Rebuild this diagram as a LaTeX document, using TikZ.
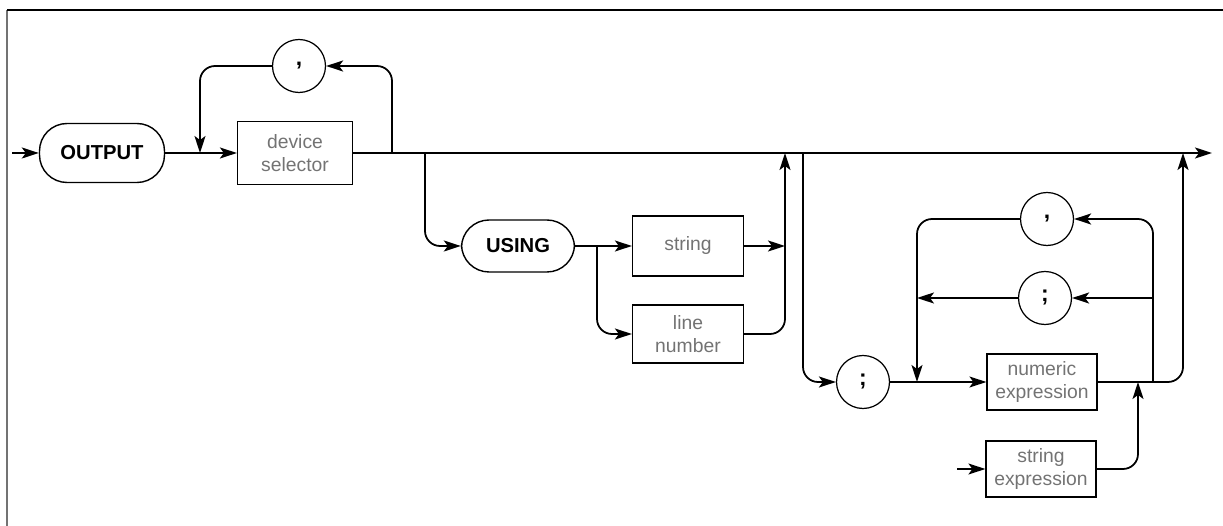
\documentclass[tikz,border=0pt]{standalone}
\usepackage{fontspec}
\setmainfont{Liberation Sans}
\usetikzlibrary{positioning, arrows.meta}

\begin{document}
\begin{tikzpicture}[
  x=0.02cm, y=-0.02cm,
  font=\fontsize{11}{13}\selectfont,
  kw/.style={draw, line width=0.8pt, rounded corners=0.55cm, minimum width=2.5cm,
    minimum height=1.18cm, font=\fontsize{11.5}{13}\selectfont\bfseries},
  box/.style={draw, line width=0.7pt, align=center, minimum width=2.22cm,
    minimum height=1.2cm, inner sep=2pt, text=black!55},
  punct/.style={draw, circle, line width=0.7pt, minimum size=1.06cm, inner sep=0pt,
    font=\fontsize{13}{14}\selectfont\bfseries},
  flow/.style={-{Stealth[length=3.4mm, width=2.2mm, inset=0.8mm]}, line width=1pt, rounded corners=0.3cm},
  rail/.style={line width=1pt, rounded corners=0.3cm}
]
\useasboundingbox (0,0) rectangle (1223,526);

% --- frame ---
\draw[line width=0.6pt, black!55] (7,10) -- (7,526);
\draw[line width=1.3pt] (7,10) -- (1223,10);

% --- OUTPUT and the device selector list ---
\coordinate (entry) at (12,153);
\node[kw] (output) at (102,153) {OUTPUT};
\node[box, minimum width=2.3cm, minimum height=1.26cm] (devsel) at (295,153) {device\\selector};
\node[punct] (comma1) at (299,66) {,};

\draw[flow] (entry) -- (output.west);
\draw[flow] (output.east) -- (devsel.west);

\coordinate (mainend) at (1212,153);
\draw[flow] (devsel.east) -- (mainend);

% comma loop back over the device selector
\coordinate (j0) at (200,153);
\coordinate (j1) at (392,153);
\draw[flow] (j1) |- (comma1.east);
\draw[flow] (comma1.west) -| (j0);

% --- optional USING clause ---
\node[kw, minimum width=2.26cm, minimum height=1.04cm] (using) at (518,246) {USING};
\node[box] (strg) at (688,246) {string};
\node[box, minimum height=1.16cm] (linenum) at (688,334) {line\\number};

\coordinate (j2) at (425,153);
\coordinate (j3) at (597,246);
\coordinate (j4) at (785,246);
\coordinate (j5) at (785,153);
\draw[flow] (j2) |- (using.west);
\draw[flow] (using.east) -- (strg.west);
\draw[flow] (j3) |- (linenum.west);
\draw[flow] (strg.east) -- (j4);
\draw[rail] (linenum.east) -| (j4);
\draw[flow] (j4) -- (j5);

% --- output items after the semicolon ---
\node[punct] (semi0) at (863,382) {;};
\node[box, minimum width=2.2cm, minimum height=1.12cm] (numexpr) at (1042,382) {numeric\\expression};
\node[box, minimum width=2.2cm, minimum height=1.12cm] (strexpr) at (1041,469) {string\\expression};
\node[punct] (comma2) at (1047,219) {,};
\node[punct] (semi2) at (1045,298) {;};

\coordinate (j6) at (803,153);
\draw[flow] (j6) |- (semi0.west);
\draw[flow] (semi0.east) -- (numexpr.west);

\coordinate (j12) at (957,469);
\draw[flow] (j12) -- (strexpr.west);

% item separators loop back
\coordinate (j7) at (1153,382);
\coordinate (j8) at (917,382);
\coordinate (j9) at (1153,298);
\coordinate (j10) at (917,298);
\draw[flow] (j7) |- (comma2.east);
\draw[flow] (comma2.west) -| (j8);
\draw[flow] (j9) -- (semi2.east);
\draw[flow] (semi2.west) -- (j10);

% back up to the main line
\coordinate (j11) at (1183,153);
\coordinate (j13) at (1138,382);
\draw[flow] (numexpr.east) -| (j11);
\draw[flow] (strexpr.east) -| (j13);

\end{tikzpicture}
\end{document}
